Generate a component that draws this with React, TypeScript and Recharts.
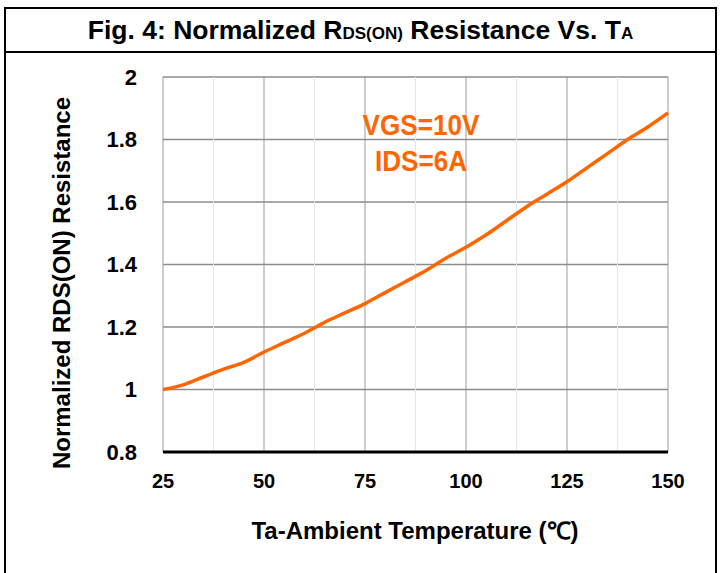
import { LineChart, Line, XAxis, YAxis, CartesianGrid, ReferenceLine } from "recharts";

// Ta (°C)
const temps = [25, 30, 35, 40, 45, 50, 55, 60, 65, 70, 75, 80, 85, 90, 95, 100, 105, 110, 115, 120, 125, 130, 135, 140, 145, 150];
// normalized RDS(ON)
const resistance = [
  1.0, 1.015, 1.04, 1.065, 1.087, 1.12, 1.15, 1.18, 1.215, 1.245, 1.275, 1.31, 1.345,
  1.38, 1.42, 1.455, 1.495, 1.54, 1.585, 1.625, 1.665, 1.71, 1.755, 1.8, 1.84, 1.885,
];
const xTicks = [25, 50, 75, 100, 125, 150];
const xMinor = [37.5, 62.5, 87.5, 112.5, 137.5];
const yTicks = [0.8, 1, 1.2, 1.4, 1.6, 1.8, 2];
const notes = ["VGS=10V", "IDS=6A"];

const FONT = "'Liberation Sans', Arial, sans-serif";
const ORANGE = "#ff6600";

const data = temps.map((t, i) => ({ t, r: resistance[i] }));

export default function App() {
  return (
    <div
      style={{
        position: "absolute",
        left: 0,
        top: 0,
        width: 726,
        height: 573,
        overflow: "hidden",
        background: "#fff",
        fontFamily: FONT,
        fontWeight: "bold",
      }}
    >
      <div
        style={{
          position: "absolute",
          left: 4,
          top: 7,
          width: 713,
          height: 620,
          border: "2px solid #000",
          boxSizing: "border-box",
        }}
      />
      <div style={{ position: "absolute", left: 4, top: 51, width: 713, height: 2, background: "#000" }} />
      <div
        style={{
          position: "absolute",
          left: 4,
          top: 9,
          width: 713,
          height: 42,
          lineHeight: "42px",
          textAlign: "center",
          fontSize: 26.5,
          color: "#000",
        }}
      >
        Fig. 4: Normalized R<span style={{ fontSize: 17 }}>DS(ON)</span> Resistance Vs. T
        <span style={{ fontSize: 17 }}>A</span>
      </div>

      <LineChart
        width={726}
        height={573}
        data={data}
        margin={{ top: 77, right: 58, bottom: 61, left: 103 }}
        style={{ position: "absolute", left: 0, top: 0 }}
      >
        <CartesianGrid horizontal={false} stroke="#bdbdbd" strokeWidth={1.5} verticalValues={xTicks} />
        <CartesianGrid vertical={false} stroke="#8c8c8c" strokeWidth={1.5} horizontalValues={yTicks} />
        {xMinor.map((v) => (
          <ReferenceLine key={v} x={v} stroke="#e6e6e6" strokeWidth={1} />
        ))}
        <XAxis
          dataKey="t"
          type="number"
          domain={[25, 150]}
          ticks={xTicks}
          height={60}
          axisLine={{ stroke: "#000", strokeWidth: 3 }}
          tickLine={false}
          tickMargin={16}
          tick={{ fill: "#000", fontSize: 20, fontFamily: FONT, fontWeight: "bold" }}
        />
        <YAxis
          type="number"
          domain={[0.8, 2]}
          ticks={yTicks}
          width={60}
          axisLine={false}
          tickLine={false}
          tickMargin={20}
          tick={{ fill: "#000", fontSize: 22, fontFamily: FONT, fontWeight: "bold" }}
        />
        <Line
          type="monotone"
          dataKey="r"
          stroke={ORANGE}
          strokeWidth={3.5}
          dot={false}
          isAnimationActive={false}
        />
      </LineChart>

      {notes.map((n, i) => (
        <div
          key={n}
          style={{
            position: "absolute",
            left: 321,
            top: 108 + i * 36,
            width: 200,
            textAlign: "center",
            fontSize: 30,
            lineHeight: "34px",
            color: ORANGE,
            transform: "scaleX(0.87)",
          }}
        >
          {n}
        </div>
      ))}

      <div
        style={{
          position: "absolute",
          left: 215,
          top: 515,
          width: 400,
          textAlign: "center",
          fontSize: 24,
          lineHeight: "32px",
          color: "#000",
        }}
      >
        Ta-Ambient Temperature (℃)
      </div>

      <div
        style={{
          position: "absolute",
          left: 62 - 220,
          top: 283 - 16,
          width: 440,
          height: 32,
          lineHeight: "32px",
          textAlign: "center",
          fontSize: 24,
          color: "#000",
          transform: "rotate(-90deg)",
        }}
      >
        Normalized RDS(ON) Resistance
      </div>
    </div>
  );
}
